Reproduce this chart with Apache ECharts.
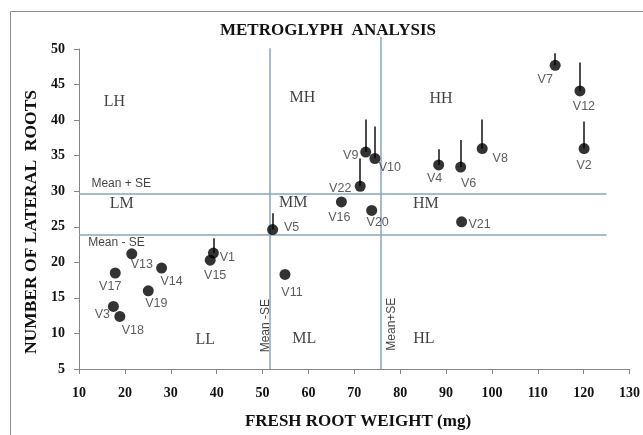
<!DOCTYPE html>
<html>
<head>
<meta charset="utf-8">
<script src="https://cdn.jsdelivr.net/npm/echarts@6/dist/echarts.min.js"></script>
<style>html,body{margin:0;padding:0;background:#fff;}#c{width:643px;height:435px;}</style>
</head>
<body>
<div id="c"></div>
<script>
// ---- data ----
const names = ['V1','V2','V3','V4','V5','V6','V7','V8','V9','V10','V11','V12','V13','V14','V15','V16','V17','V18','V19','V20','V21','V22'];
const rootWeight = [39.3,120.1,17.5,88.4,52.2,93.2,113.8,97.9,72.5,74.5,54.9,119.2,21.5,28.0,38.6,67.2,17.9,18.9,25.1,73.8,93.4,71.3];
const lateralRoots = [21.3,36.0,13.8,33.7,24.6,33.4,47.7,36.0,35.5,34.6,18.3,44.1,21.2,19.2,20.3,28.5,18.5,12.4,16.0,27.3,25.7,30.7];
const rayTop = [23.4,39.8,null,35.9,26.9,37.2,49.4,40.1,40.1,39.1,null,48.1,null,null,null,null,null,null,null,null,null,34.6];
const meanMinusSE_x = 51.5, meanPlusSE_x = 75.8;
const meanMinusSE_y = 23.9, meanPlusSE_y = 29.6;
const quadrantNames = ['LH','MH','HH','LM','MM','HM','LL','ML','HL'];
const quadrantX = [17.7,58.7,88.9,19.3,56.7,85.6,37.5,59.1,85.2];
const quadrantY = [42.6,43.1,43.0,28.2,28.4,28.2,9.1,9.2,9.2];

// ---- label placement (styles) ----
const labelOffset = {
  V1:[14,4],V2:[0,17],V3:[-11,8],V4:[-4,14],V5:[19,-2],V6:[8,17],V7:[-10,14],V8:[18,10],
  V9:[-15,3],V10:[15,9],V11:[7,18],V12:[4,16],V13:[10,11],V14:[10,14],V15:[5,15],V16:[-2,16],
  V17:[-5,14],V18:[13,14],V19:[8,13],V20:[6,12],V21:[18,3],V22:[-20,2]
};

const chart = echarts.init(document.getElementById('c'), null, {renderer:'canvas'});
const serif = '"Liberation Serif", "Times New Roman", serif';
const sans = '"Liberation Sans", Arial, sans-serif';
const refColor = '#8aa5bf';

const rays = [];
names.forEach((n,i)=>{ if(rayTop[i]!=null) rays.push({coords:[[rootWeight[i],lateralRoots[i]],[rootWeight[i],rayTop[i]]]}); });

const refLines = [
  {coords:[[10,meanPlusSE_y],[125,meanPlusSE_y]]},
  {coords:[[10,meanMinusSE_y],[125,meanMinusSE_y]]},
  {coords:[[meanMinusSE_x,5],[meanMinusSE_x,50.1]]},
  {coords:[[meanPlusSE_x,5],[meanPlusSE_x,51.7]]}
];

const option = {
  backgroundColor:'#fff',
  animation:false,
  grid:{left:79, right:7, top:49, bottom:66},
  graphic:[
    {type:'rect', shape:{x:10.5,y:11.5,width:700,height:500}, style:{fill:'none', stroke:'#8c8c8c', lineWidth:1}, z:-1},
    {type:'text', x:328, y:31, style:{text:'METROGLYPH  ANALYSIS', font:'bold 17px '+serif, fill:'#111', textAlign:'center', textVerticalAlign:'middle'}},
    {type:'text', x:358, y:422, style:{text:'FRESH ROOT WEIGHT (mg)', font:'bold 17px '+serif, fill:'#111', textAlign:'center', textVerticalAlign:'middle'}},
    {type:'text', x:31, y:222, rotation:Math.PI/2, style:{text:'NUMBER OF LATERAL  ROOTS', font:'bold 17.5px '+serif, fill:'#111', textAlign:'center', textVerticalAlign:'middle'}}
  ],
  xAxis:{
    type:'value', min:10, max:130, interval:10,
    axisLine:{show:true, onZero:false, lineStyle:{color:'#868686', width:1}},
    axisTick:{show:true, length:5, lineStyle:{color:'#868686'}},
    splitLine:{show:false},
    axisLabel:{margin:17, color:'#111', fontFamily:serif, fontWeight:'bold', fontSize:14, showMaxLabel:true}
  },
  yAxis:{
    type:'value', min:5, max:50, interval:5,
    axisLine:{show:true, onZero:false, lineStyle:{color:'#868686', width:1}},
    axisTick:{show:true, length:5, lineStyle:{color:'#868686'}},
    splitLine:{show:false},
    axisLabel:{margin:14, color:'#111', fontFamily:serif, fontWeight:'bold', fontSize:14}
  },
  series:[
    {type:'lines', coordinateSystem:'cartesian2d', clip:false, silent:true, z:1,
     lineStyle:{color:refColor, width:1.5, opacity:1}, data:refLines},
    {type:'lines', coordinateSystem:'cartesian2d', clip:false, silent:true, z:2,
     lineStyle:{color:'#111', width:1.5, opacity:1}, data:rays},
    {type:'scatter', clip:false, z:3, symbol:'circle', symbolSize:11,
     itemStyle:{color:'#000'},
     data:names.map((n,i)=>({name:n, value:[rootWeight[i],lateralRoots[i]],
       label:{offset:labelOffset[n]}})),
     label:{show:true, position:'inside', formatter:'{b}', color:'#333', fontFamily:sans, fontSize:12.5, align:'center', verticalAlign:'middle'}
    },
    {type:'scatter', clip:false, z:3, symbolSize:0, silent:true,
     data:quadrantNames.map((n,i)=>({name:n, value:[quadrantX[i],quadrantY[i]]})),
     label:{show:true, position:'inside', formatter:'{b}', color:'#111', fontFamily:serif, fontSize:16, align:'center', verticalAlign:'middle'}
    },
    {type:'scatter', clip:false, z:3, symbolSize:0, silent:true,
     data:[
       {name:'Mean + SE', value:[12.7, meanPlusSE_y], label:{align:'left', offset:[0,-10]}},
       {name:'Mean - SE', value:[12.0, meanMinusSE_y], label:{align:'left', offset:[0,8]}},
       {name:'Mean -SE', value:[meanMinusSE_x, 11.1], label:{rotate:90, offset:[0,-4]}},
       {name:'Mean+SE', value:[meanPlusSE_x, 11.3], label:{rotate:90, offset:[0,11]}}
     ],
     label:{show:true, position:'inside', formatter:'{b}', color:'#111', fontFamily:sans, fontSize:12, align:'center', verticalAlign:'middle'}
    }
  ]
};
chart.setOption(option);
</script>
</body>
</html>
